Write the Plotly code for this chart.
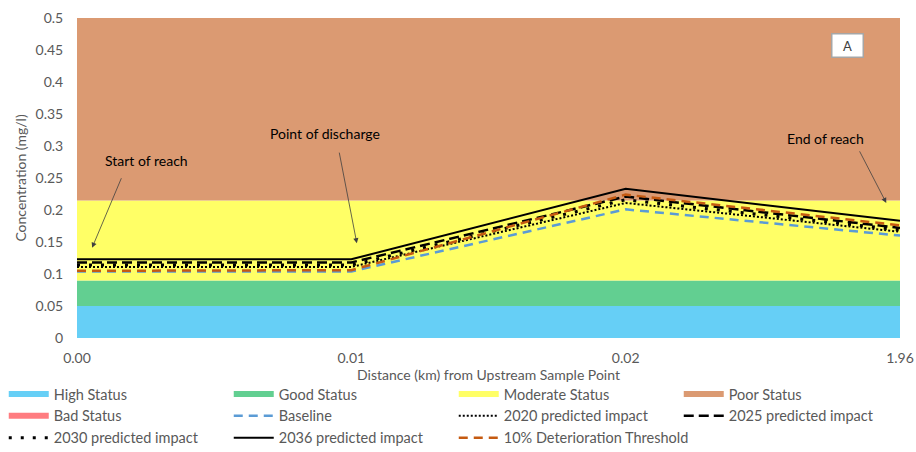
import plotly.graph_objects as go

x_pos = [0, 1, 2, 3]
x_labels = ["0.00", "0.01", "0.02", "1.96"]

# status band thicknesses (stacked)
band_names = ["High Status", "Good Status", "Moderate Status", "Poor Status", "Bad Status"]
band_sizes = [0.05, 0.04, 0.125, 0.285, 0.5]
band_colors = ["#66CFF6", "#62CF91", "#FFFF66", "#DB9A72", "#FF7C80"]

baseline = [0.104, 0.104, 0.201, 0.160]
t2020 = [0.111, 0.111, 0.211, 0.166]
t2025 = [0.118, 0.118, 0.221, 0.172]
t2030 = [0.114, 0.114, 0.216, 0.169]
t2036 = [0.123, 0.123, 0.233, 0.183]
threshold = [0.105, 0.106, 0.224, 0.176]

y_ticks = [0, 0.05, 0.1, 0.15, 0.2, 0.25, 0.3, 0.35, 0.4, 0.45, 0.5]
y_ticktext = ["0", "0.05", "0.1", "0.15", "0.2", "0.25", "0.3", "0.35", "0.4", "0.45", "0.5"]

FONT = "Lato"
GREY = "#595959"

fig = go.Figure()
for name, size, col in zip(band_names, band_sizes, band_colors):
    fig.add_trace(go.Scatter(
        x=x_pos, y=[size] * len(x_pos), name=name, stackgroup="bands",
        mode="none", fillcolor=col, hoverinfo="skip"))

lines = [
    ("Baseline", baseline, "#5B9BD5", 2.5, "9px,6px"),
    ("2020 predicted impact", t2020, "#000000", 2, "2px,2px"),
    ("2025 predicted impact", t2025, "#000000", 2.5, "10px,5px"),
    ("2030 predicted impact", t2030, "#000000", 3, "3px,9px"),
    ("2036 predicted impact", t2036, "#000000", 2, "solid"),
    ("10% Deterioration Threshold", threshold, "#C55A11", 2.5, "9px,6px"),
]
for name, ys, col, w, dash in lines:
    fig.add_trace(go.Scatter(
        x=x_pos, y=ys, name=name, mode="lines",
        line=dict(color=col, width=w, dash=dash)))

def arrow(hx, hy, tx, ty):
    fig.add_annotation(x=hx, y=hy, ax=tx, ay=ty, xref="x", yref="y",
                       axref="x", ayref="y", text="", showarrow=True,
                       arrowhead=2, arrowsize=1.3, arrowwidth=0.8,
                       arrowcolor="#404040")

arrow(0.055, 0.141, 0.164, 0.252)
arrow(1.02, 0.148, 0.955, 0.292)
arrow(2.95, 0.211, 2.85, 0.294)

for txt, tx, ty in [("Start of reach", 0.255, 0.278),
                    ("Point of discharge", 0.904, 0.319),
                    ("End of reach", 2.73, 0.3125)]:
    fig.add_annotation(x=tx, y=ty, xref="x", yref="y", text=txt,
                       showarrow=False, font=dict(family=FONT, size=14, color="#000000"))

fig.add_annotation(x=0.9565, y=0.953, xref="paper", yref="paper", text="A",
                   showarrow=False, bgcolor="white", bordercolor="#A6A6A6",
                   borderwidth=1.5, borderpad=2, width=26, height=18,
                   font=dict(family=FONT, size=13, color="#404040"))

fig.update_layout(
    width=916, height=452,
    margin=dict(l=77, r=16, t=18, b=114, autoexpand=False),
    paper_bgcolor="white", plot_bgcolor="white",
    font=dict(family=FONT, size=14, color=GREY),
    showlegend=True,
    legend=dict(orientation="h", x=-0.089, y=-0.125, xanchor="left", yanchor="top",
                entrywidth=170, entrywidthmode="pixels",
                font=dict(family=FONT, size=14.5, color=GREY),
                itemwidth=40, traceorder="normal", bgcolor="rgba(0,0,0,0)"),
    xaxis=dict(range=[0, 3], tickmode="array", tickvals=x_pos, ticktext=x_labels,
               showgrid=False, zeroline=False, showline=False,
               ticks="outside", ticklen=7, tickcolor="rgba(0,0,0,0)",
               title=dict(text="Distance (km) from Upstream Sample Point",
                          font=dict(family=FONT, size=14, color=GREY), standoff=0),
               tickfont=dict(family=FONT, size=14, color=GREY)),
    yaxis=dict(range=[0, 0.5], tickmode="array", tickvals=y_ticks, ticktext=y_ticktext,
               showgrid=True, gridcolor="#E0E0E0", zeroline=False, showline=False,
               ticks="outside", ticklen=10, tickcolor="rgba(0,0,0,0)",
               title=dict(text="Concentration (mg/l)",
                          font=dict(family=FONT, size=14, color=GREY), standoff=5),
               tickfont=dict(family=FONT, size=14, color=GREY)),
)

fig.write_html("out.html")
